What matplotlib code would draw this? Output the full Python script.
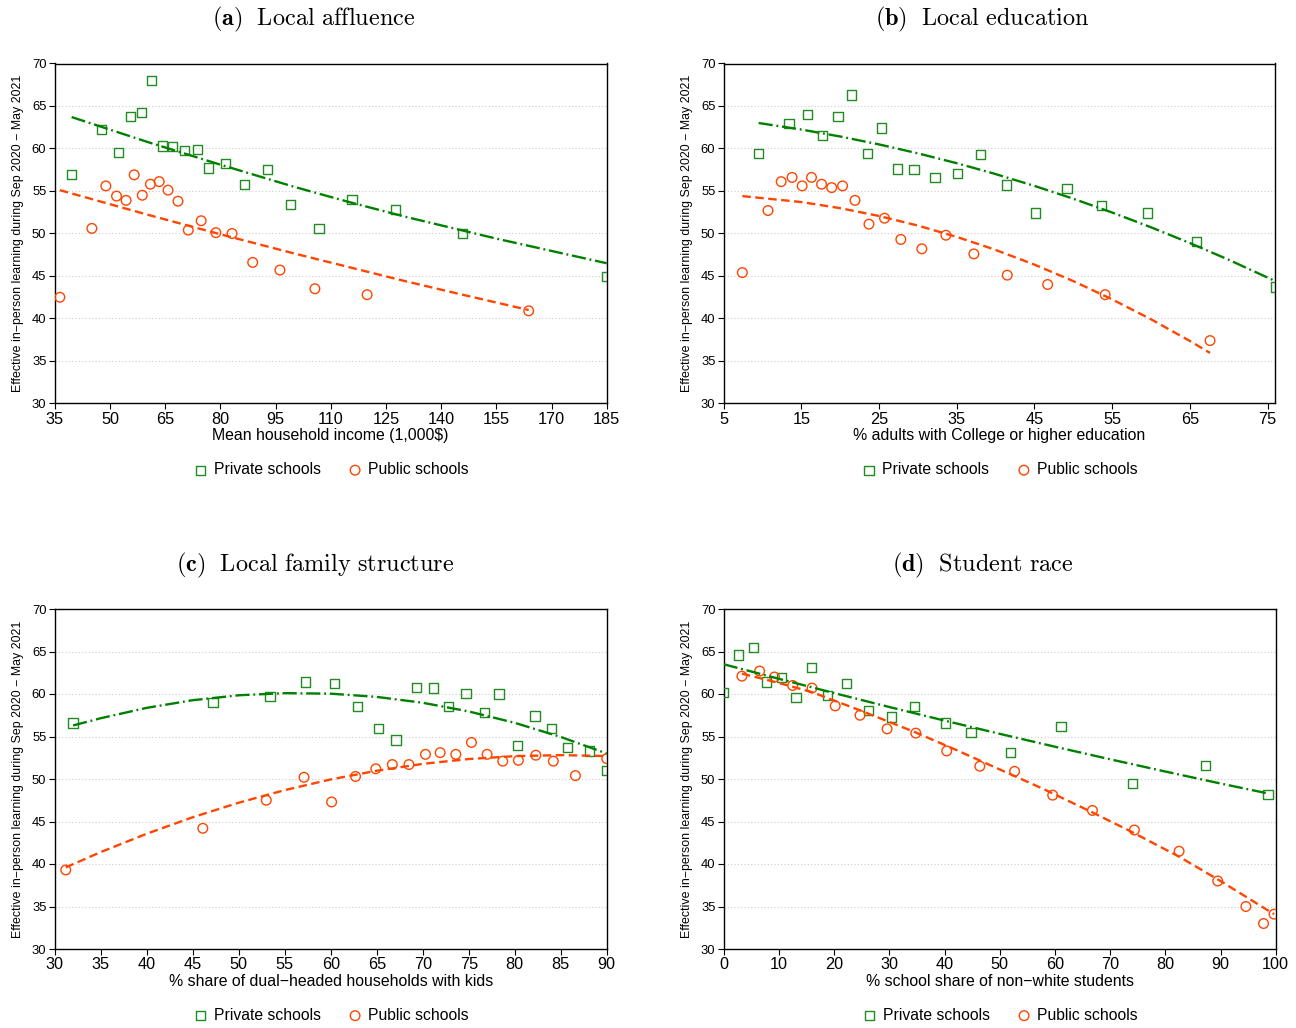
"""
Binscatter of effective in-person learning (Sep 2020 - May 2021)
against four local characteristics, private vs public schools.
Values read off the published figure; fit lines are the quadratic
fits as drawn in the original.
"""

import matplotlib
matplotlib.use('Agg')
import matplotlib.pyplot as plt

# ---- (a) local affluence ----
a_priv_x = [39.6, 47.7, 52.4, 55.7, 58.5, 61.3, 64.3, 67.1, 70.3, 73.7,
            76.7, 81.5, 86.6, 92.8, 99.1, 106.8, 115.8, 127.6, 145.8, 185.0]
a_priv_y = [56.9, 62.2, 59.5, 63.8, 64.2, 68.0, 60.3, 60.2, 59.8, 59.9,
            57.7, 58.2, 55.8, 57.5, 53.4, 50.6, 54.0, 52.8, 50.0, 44.9]
a_pub_x = [36.4, 45.1, 48.9, 51.8, 54.4, 56.6, 58.8, 61.0, 63.4, 65.8,
           68.5, 71.3, 74.8, 78.8, 83.2, 88.8, 96.2, 105.7, 119.9, 163.8]
a_pub_y = [42.5, 50.6, 55.6, 54.4, 53.9, 56.9, 54.5, 55.8, 56.1, 55.1,
           53.8, 50.4, 51.5, 50.1, 50.0, 46.6, 45.7, 43.5, 42.8, 40.9]
a_priv_fit_x = [39.6, 60, 80, 100, 115, 130, 155, 185]
a_priv_fit_y = [63.7, 60.8, 58.1, 55.5, 53.7, 52.0, 49.4, 46.5]
a_pub_fit_x = [36.4, 60, 80, 100, 130, 145, 163.8]
a_pub_fit_y = [55.1, 52.24, 49.91, 47.66, 44.42, 42.88, 41.0]

# ---- (b) local education ----
b_priv_x = [9.5, 13.4, 15.8, 17.7, 19.7, 21.4, 23.5, 25.3, 27.4, 29.5,
            32.2, 35.1, 38.1, 41.4, 45.1, 49.2, 53.6, 59.6, 65.9, 76.0]
b_priv_y = [59.4, 62.9, 64.0, 61.5, 63.8, 66.3, 59.4, 62.4, 57.6, 57.5,
            56.6, 57.1, 59.3, 55.7, 52.4, 55.3, 53.3, 52.4, 49.1, 43.7]
b_pub_x = [7.4, 10.7, 12.4, 13.8, 15.1, 16.3, 17.6, 18.9, 20.3, 21.9,
           23.7, 25.7, 27.8, 30.5, 33.6, 37.2, 41.5, 46.7, 54.1, 67.6]
b_pub_y = [45.4, 52.7, 56.1, 56.6, 55.6, 56.6, 55.8, 55.4, 55.6, 53.9,
           51.1, 51.8, 49.3, 48.2, 49.8, 47.6, 45.1, 44.0, 42.8, 37.4]
b_priv_fit_x = [9.5, 15, 20, 25, 30, 35, 39.6, 45, 50, 55, 60, 65, 70, 76]
b_priv_fit_y = [63.0, 62.23, 61.41, 60.48, 59.43, 58.27, 57.1, 55.6,
                54.09, 52.47, 50.73, 48.88, 46.91, 44.4]
b_pub_fit_x = [7.4, 15, 20, 25, 30, 35, 39.6, 45, 50, 55, 60, 65, 67.6]
b_pub_fit_y = [54.4, 53.7, 52.98, 52.06, 50.93, 49.6, 48.2, 46.34,
               44.4, 42.25, 39.91, 37.36, 35.95]

# ---- (c) local family structure ----
c_priv_x = [32.0, 47.2, 53.4, 57.3, 60.4, 62.9, 65.2, 67.1, 69.3, 71.2,
            72.8, 74.7, 76.7, 78.3, 80.3, 82.2, 84.0, 85.7, 88.1, 90.0]
c_priv_y = [56.6, 59.0, 59.7, 61.4, 61.2, 58.5, 55.9, 54.6, 60.8, 60.7,
            58.5, 60.1, 57.8, 60.0, 53.9, 57.4, 55.9, 53.7, 53.3, 51.0]
c_pub_x = [31.2, 46.1, 53.0, 57.1, 60.1, 62.7, 64.9, 66.7, 68.5, 70.3,
           71.9, 73.6, 75.3, 77.0, 78.7, 80.4, 82.3, 84.2, 86.6, 90.0]
c_pub_y = [39.3, 44.2, 47.5, 50.2, 47.3, 50.3, 51.2, 51.7, 51.7, 52.9,
           53.1, 52.9, 54.3, 52.9, 52.1, 52.2, 52.8, 52.1, 50.4, 52.4]
c_priv_fit_x = [32, 35, 40, 45, 50, 55, 60, 65, 70, 75, 80, 85, 90]
c_priv_fit_y = [56.3, 57.15, 58.37, 59.27, 59.85, 60.1, 60.04, 59.66,
                58.97, 57.95, 56.61, 54.95, 53.0]
c_pub_fit_x = [31.2, 35, 40, 45, 50, 55, 60, 65, 70, 75, 80, 85, 90]
c_pub_fit_y = [39.6, 41.4, 43.56, 45.5, 47.21, 48.69, 49.95, 50.97,
               51.78, 52.35, 52.69, 52.81, 52.7]

# ---- (d) student race ----
d_priv_x = [0.0, 2.7, 5.4, 7.7, 10.4, 13.1, 15.9, 18.8, 22.3, 26.3,
            30.4, 34.6, 40.2, 44.8, 51.9, 61.1, 74.1, 87.3, 98.6]
d_priv_y = [60.2, 64.6, 65.5, 61.4, 61.9, 59.6, 63.1, 59.8, 61.2, 58.1,
            57.3, 58.5, 56.6, 55.5, 53.1, 56.2, 49.5, 51.6, 48.2]
d_pub_x = [3.3, 6.5, 9.2, 12.5, 16.0, 20.2, 24.7, 29.6, 34.8, 40.4,
           46.4, 52.7, 59.6, 66.8, 74.4, 82.5, 89.5, 94.6, 97.8, 99.7]
d_pub_y = [62.1, 62.7, 62.0, 61.0, 60.7, 58.6, 57.5, 55.9, 55.4, 53.3,
           51.5, 50.9, 48.1, 46.3, 44.0, 41.5, 38.0, 35.0, 33.0, 34.1]
d_priv_fit_x = [0, 10, 20, 30, 40, 50.1, 60, 70, 80, 90, 98.6]
d_priv_fit_y = [63.5, 61.79, 60.11, 58.47, 56.87, 55.3, 53.8, 52.32,
                50.88, 49.47, 48.3]
d_pub_fit_x = [3.3, 10, 16.1, 25, 34.7, 42, 50.1, 58, 66.7, 74, 82.4, 90, 99.7]
d_pub_fit_y = [62.4, 61.3, 60.2, 58.0, 55.5, 53.45, 51.1, 48.8, 46.1,
               43.75, 40.9, 38.0, 34.1]

panels = [
    ('a', 'Local affluence', 'Mean household income (1,000$)',
     (35, 185), list(range(35, 186, 15))),
    ('b', 'Local education', '% adults with College or higher education',
     (5, 76), list(range(5, 76, 10))),
    ('c', 'Local family structure', '% share of dual\u2212headed households with kids',
     (30, 90), list(range(30, 91, 5))),
    ('d', 'Student race', '% school share of non\u2212white students',
     (0, 100), list(range(0, 101, 10))),
]

GREEN_MK = '#228B22'
GREEN_LN = '#008000'
RED = '#FF4500'
YLABEL = 'Effective in\u2212person learning during Sep 2020 \u2212 May 2021'


def plot_panel(ax, data, xlim, xticks, xlabel):
    px, py, ux, uy, pfx, pfy, ufx, ufy = data
    ax.scatter(px, py, marker='s', s=44, facecolors='none',
               edgecolors=GREEN_MK, linewidths=1.0, zorder=3,
               label='Private schools')
    ax.scatter(ux, uy, marker='o', s=48, facecolors='none',
               edgecolors=RED, linewidths=1.0, zorder=3,
               label='Public schools')
    ax.plot(pfx, pfy, color=GREEN_LN, lw=1.7,
            linestyle=(0, (6, 1.6, 0.8, 1.6)), zorder=4)
    ax.plot(ufx, ufy, color=RED, lw=1.7, linestyle=(0, (3.6, 1.9)), zorder=4)

    ax.set_xlim(*xlim)
    ax.set_ylim(30, 70)
    ax.set_xticks(xticks)
    ax.set_yticks(range(30, 71, 5))
    for y in range(35, 70, 5):
        ax.axhline(y, color='#cccccc', lw=0.8, linestyle=(0, (1, 2)), zorder=1)

    ax.tick_params(axis='x', labelsize=11.7, length=4, width=0.8, pad=2)
    ax.tick_params(axis='y', labelsize=9.4, length=4, width=0.8, pad=2)
    for sp in ax.spines.values():
        sp.set_linewidth(1.0)
        sp.set_color('black')

    ax.set_xlabel(xlabel, fontsize=11.4, labelpad=1)
    ax.set_ylabel(YLABEL, fontsize=8.9)
    ax.yaxis.set_label_coords(-0.056, 0.5)
    ax.legend(loc='center', bbox_to_anchor=(0.5, -0.195), ncol=2,
              frameon=False, fontsize=11.3, handletextpad=0.35,
              columnspacing=1.7, handlelength=1.0, borderpad=0)


def main():
    plt.rcParams['font.family'] = ['Liberation Sans', 'DejaVu Sans']
    plt.rcParams['mathtext.fontset'] = 'cm'

    W, H = 1296, 1028
    fig = plt.figure(figsize=(W / 100, H / 100), dpi=100)

    all_data = [
        (a_priv_x, a_priv_y, a_pub_x, a_pub_y, a_priv_fit_x, a_priv_fit_y, a_pub_fit_x, a_pub_fit_y),
        (b_priv_x, b_priv_y, b_pub_x, b_pub_y, b_priv_fit_x, b_priv_fit_y, b_pub_fit_x, b_pub_fit_y),
        (c_priv_x, c_priv_y, c_pub_x, c_pub_y, c_priv_fit_x, c_priv_fit_y, c_pub_fit_x, c_pub_fit_y),
        (d_priv_x, d_priv_y, d_pub_x, d_pub_y, d_priv_fit_x, d_priv_fit_y, d_pub_fit_x, d_pub_fit_y),
    ]
    # axes boxes in pixels: left, top, right, bottom
    boxes = [(54.7, 63.5, 606.7, 403.5), (723.7, 63.5, 1275.3, 403.5),
             (54.7, 609, 606.7, 949), (723.7, 609, 1275.7, 949)]
    title_pos = [(314, 19.5), (982, 19.5), (315, 565.5), (983, 565.5)]

    for (letter, title, xlabel, xlim, xticks), data, box, tp in zip(
            panels, all_data, boxes, title_pos):
        l, t, r, b = box
        ax = fig.add_axes([l / W, 1 - b / H, (r - l) / W, (b - t) / H])
        plot_panel(ax, data, xlim, xticks, xlabel)
        txt = r'$\mathbf{(%s)}\ \ \mathrm{%s}$' % (letter, title.replace(' ', r'\ '))
        fig.text(tp[0] / W, 1 - tp[1] / H, txt, fontsize=17.5,
                 ha='center', va='center')

    fig.savefig('out.png', dpi=100, facecolor='white')


if __name__ == "__main__":
    main()
